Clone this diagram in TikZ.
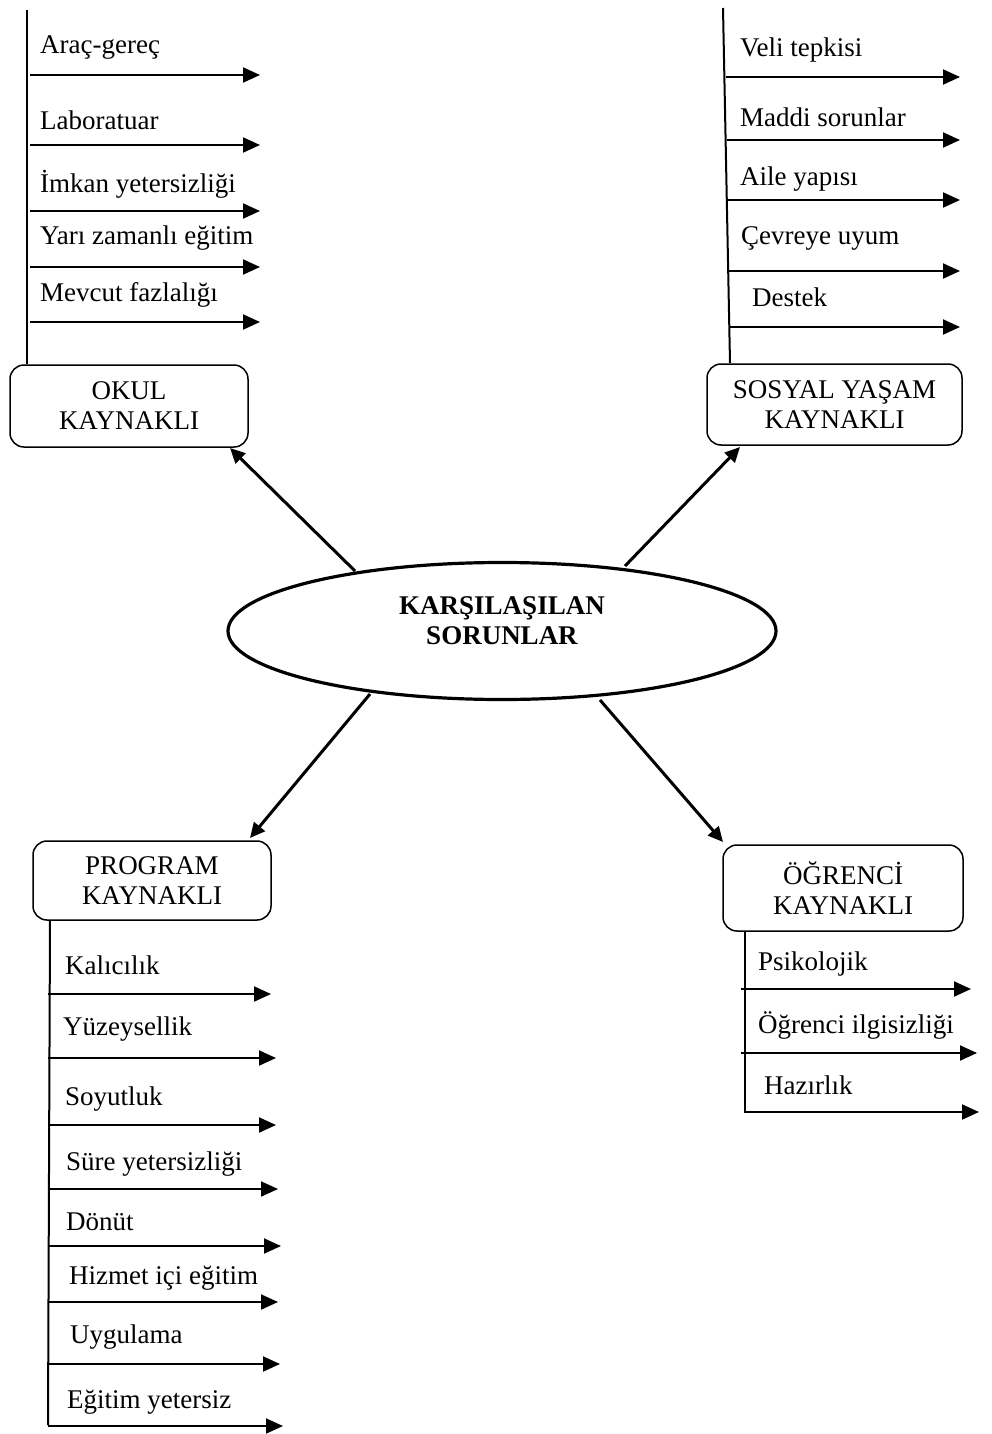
\documentclass[tikz,border=0pt]{standalone}
\usepackage{fontspec}
\setmainfont{Liberation Serif}
\usetikzlibrary{arrows.meta,shapes.geometric}
\begin{document}
\begin{tikzpicture}[x=1pt,y=-1pt,
  every node/.style={font=\fontsize{27}{30}\selectfont},
  catbox/.style={draw,line width=1.5pt,rounded corners=14pt,align=center,inner sep=0pt},
  main/.style={-{Triangle[length=15pt,width=14pt]},line width=3pt},
  spine/.style={line width=2pt},
  br/.style={-{Triangle[length=17pt,width=15pt]},line width=2pt},
  lbl/.style={anchor=west,inner sep=0pt}]
\useasboundingbox (0,0) rectangle (991,1434);
% centre
\node[draw,ellipse,line width=3.2pt,minimum width=548pt,minimum height=137pt,inner sep=0pt] (c) at (502,631) {};
\node[font=\fontsize{27}{30}\selectfont\bfseries,align=center] (ct) at (502,621) {KARŞILAŞILAN\\SORUNLAR};
% boxes
\node[catbox,minimum width=238pt,minimum height=82pt] (okul) at (129,406) {OKUL\\KAYNAKLI};
\node[catbox,minimum width=255pt,minimum height=81pt] (sos) at (834.5,404.5) {SOSYAL YAŞAM\\KAYNAKLI};
\node[catbox,minimum width=238pt,minimum height=79pt] (prog) at (152,880.5) {PROGRAM\\KAYNAKLI};
\node[catbox,minimum width=240pt,minimum height=86pt] (ogr) at (843,888) {ÖĞRENCİ\\KAYNAKLI};
% main arrows
\coordinate (c1) at (355,571);
\coordinate (c2) at (625,566);
\coordinate (c3) at (370,694);
\coordinate (c4) at (600,700);
\draw[main] (c1) -- (230,448);
\draw[main] (c2) -- (740,447);
\draw[main] (c3) -- (250,838);
\draw[main] (c4) -- (723,842);
% OKUL branches
\coordinate (o0) at (27,10);
\draw[spine] (o0) -- (okul.north west -| o0);
\foreach \y/\t/\ly in {75/Araç-gereç/48, 145/Laboratuar/120, 211/İmkan yetersizliği/184, 267/Yarı zamanlı eğitim/238, 322/Mevcut fazlalığı/295}{
  \node[lbl] (ol\y) at (40,\ly) {\t};
  \coordinate (os\y) at (30,\y);
  \coordinate (oe\y) at (260,\y);
  \draw[br] (os\y) -- (oe\y);
}
% SOSYAL branches
\coordinate (s0) at (723,8);
\coordinate (s1) at (730,363);
\draw[spine] (s0) -- (s1);
\foreach \y/\x/\t/\lx/\ly in {77/726/Veli tepkisi/740/50, 140/727/Maddi sorunlar/740/117, 200/727/Aile yapısı/740/179, 271/728/Çevreye uyum/741/238, 327/729/Destek/752/297}{
  \node[lbl] (sl\y) at (\lx,\ly) {\t};
  \coordinate (ss\y) at (\x,\y);
  \coordinate (se\y) at (960,\y);
  \draw[br] (ss\y) -- (se\y);
}
% PROGRAM branches
\coordinate (p1) at (48,1425);
\draw[spine] (prog.south west -| 50,0) -- (p1);
\foreach \y/\e/\t/\lx/\ly in {994/271/Kalıcılık/65/965, 1058/276/Yüzeysellik/63/1029, 1125/276/Soyutluk/65/1099, 1189/278/Süre yetersizliği/66/1164, 1246/281/Dönüt/66/1222, 1302/278/Hizmet içi eğitim/69/1278, 1364/280/Uygulama/70/1337, 1426/283/Eğitim yetersiz/67/1402}{
  \node[lbl] (pl\y) at (\lx,\ly) {\t};
  \coordinate (ps\y) at (48,\y);
  \coordinate (pe\y) at (\e,\y);
  \draw[br] (ps\y) -- (pe\y);
}
% OGRENCI branches
\coordinate (g1) at (745,1113);
\draw[spine] (ogr.south west -| g1) -- (g1);
\foreach \y/\s/\e/\t/\lx/\ly in {989/741/971/Psikolojik/758/964, 1053/741/977/Öğrenci ilgisizliği/758/1025, 1112/745/979/Hazırlık/764/1085}{
  \node[lbl] (gl\y) at (\lx,\ly) {\t};
  \coordinate (gs\y) at (\s,\y);
  \coordinate (ge\y) at (\e,\y);
  \draw[br] (gs\y) -- (ge\y);
}
\end{tikzpicture}
\end{document}
